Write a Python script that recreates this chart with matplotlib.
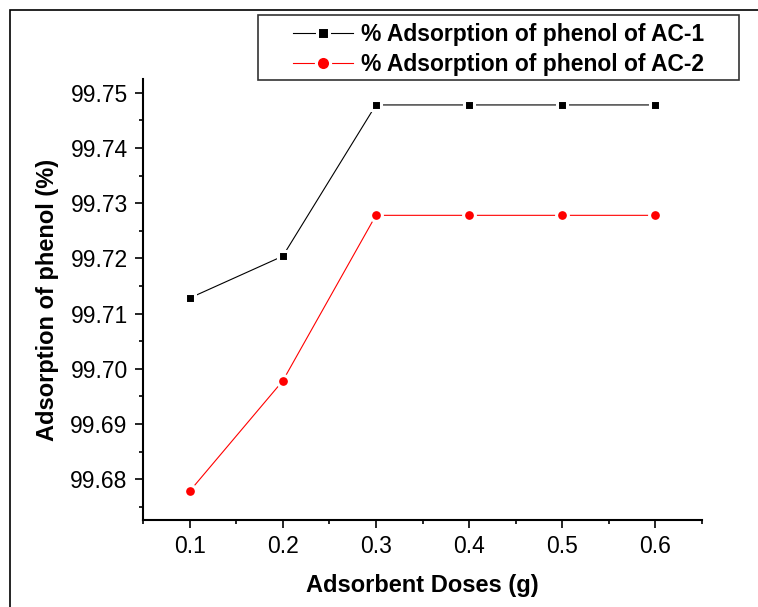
import matplotlib.pyplot as plt
from matplotlib.ticker import MultipleLocator

plt.rcParams['font.family'] = ['Liberation Sans', 'DejaVu Sans']

# data
doses = [0.1, 0.2, 0.3, 0.4, 0.5, 0.6]
ac1 = [99.7128, 99.7204, 99.7478, 99.7478, 99.7478, 99.7478]
ac2 = [99.6778, 99.6978, 99.7278, 99.7278, 99.7278, 99.7278]
label1 = '% Adsorption of phenol of AC-1'
label2 = '% Adsorption of phenol of AC-2'

W, H = 758, 607
fig = plt.figure(figsize=(W / 100, H / 100), dpi=100)
ax = fig.add_axes([143 / W, 1 - 520 / H, (702 - 143) / W, (520 - 79) / H])

# white marker edge gives the small gap between line and marker
ax.plot(doses, ac1, color='black', lw=0.8, marker='s', ms=7.5,
        mfc='black', mec='white', mew=2.2, label=label1)
ax.plot(doses, ac2, color='red', lw=0.8, marker='o', ms=8.5,
        mfc='red', mec='white', mew=2.2, label=label2)

ax.set_xlim(0.05, 0.65)
ax.set_ylim(99.6726, 99.7525)
ax.xaxis.set_major_locator(MultipleLocator(0.1))
ax.xaxis.set_minor_locator(MultipleLocator(0.05))
ax.yaxis.set_major_locator(MultipleLocator(0.01))
ax.yaxis.set_minor_locator(MultipleLocator(0.005))
ax.xaxis.set_major_formatter(plt.FormatStrFormatter('%.1f'))
ax.yaxis.set_major_formatter(plt.FormatStrFormatter('%.2f'))

for s in ['top', 'right']:
    ax.spines[s].set_visible(False)
for s in ['left', 'bottom']:
    ax.spines[s].set_linewidth(1.5)
ax.tick_params(which='major', direction='out', length=6, width=1.2, labelsize=16.5, pad=5)
ax.tick_params(which='minor', direction='out', length=3, width=1.2)

ax.set_xlabel('Adsorbent Doses (g)', fontsize=17, fontweight='bold', labelpad=11)
ax.set_ylabel('Adsorption of phenol (%)', fontsize=17, fontweight='bold', labelpad=8)

# legend without its own frame, box drawn separately
leg = fig.legend(loc='upper left', bbox_to_anchor=(293 / W, 1 - 23 / H),
                 prop={'size': 16.5, 'weight': 'bold'}, frameon=False,
                 handlelength=2.6, borderpad=0, labelspacing=0.3,
                 handletextpad=0.35, borderaxespad=0, markerscale=1.2)
fig.patches.append(plt.Rectangle((258 / W, 1 - 80 / H), (739 - 258) / W, 65 / H,
                                 transform=fig.transFigure, fill=False,
                                 lw=1.2, ec='#333333'))

# outer frame of the figure
fig.patches.append(plt.Rectangle((9.5 / W, -0.1), 1.2, 1.1 - 9.5 / H,
                                 transform=fig.transFigure, fill=False,
                                 lw=1.2, ec='black'))

fig.savefig('out.png', dpi=100)
